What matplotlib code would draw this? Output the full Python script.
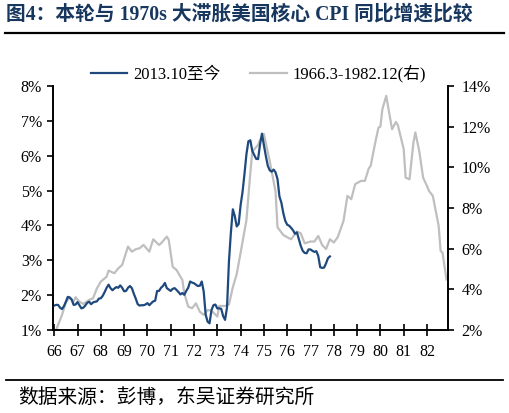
import numpy as np
import matplotlib
matplotlib.use("Agg")
import matplotlib.pyplot as plt
from matplotlib.lines import Line2D

# 2013.10 to now, US core CPI yoy (%), monthly, left axis
blue_vals = [1.70, 1.72, 1.72, 1.64, 1.60, 1.68, 1.81, 1.95, 1.93, 1.87,
             1.72, 1.73, 1.80, 1.71, 1.62, 1.64, 1.70, 1.78, 1.81, 1.74,
             1.79, 1.81, 1.82, 1.90, 1.91, 1.98, 2.09, 2.21, 2.30, 2.20,
             2.14, 2.19, 2.23, 2.21, 2.28, 2.21, 2.11, 2.12, 2.21, 2.26,
             2.20, 2.04, 1.90, 1.74, 1.70, 1.71, 1.71, 1.73, 1.77, 1.71,
             1.77, 1.82, 1.84, 2.12, 2.12, 2.21, 2.26, 2.35, 2.20, 2.16,
             2.12, 2.18, 2.20, 2.15, 2.09, 2.02, 2.06, 2.01, 2.12, 2.21,
             2.39, 2.36, 2.34, 2.30, 2.26, 2.27, 2.39, 2.10, 1.44, 1.24,
             1.19, 1.57, 1.71, 1.73, 1.62, 1.62, 1.61, 1.40, 1.29, 1.65,
             2.97, 3.80, 4.46, 4.27, 3.97, 4.04, 4.58, 4.96, 5.48, 6.04,
             6.41, 6.44, 6.14, 6.02, 5.91, 5.90, 6.32, 6.63, 6.30, 5.99,
             5.71, 5.58, 5.54, 5.60, 5.52, 5.33, 4.83, 4.65, 4.35, 4.13,
             4.02, 3.99, 3.93, 3.86, 3.76, 3.80, 3.61, 3.41, 3.27, 3.21,
             3.20, 3.31, 3.31, 3.27, 3.24, 3.26, 3.12, 2.80, 2.78, 2.79,
             2.91, 3.06, 3.11]

# 1966.3-1982.12, months since 1966.3 and yoy (%), right axis
gray_months = [0, 2, 4, 6, 8, 10, 11, 13, 15, 18, 20, 22, 24, 27, 28, 31, 33, 35,
               38, 40, 42, 44, 46, 49, 51, 54, 55, 58, 59, 60, 61, 63, 66, 67,
               69, 71, 73, 75, 77, 79, 81, 84, 85, 88, 90, 92, 94, 96, 99, 101,
               102, 105, 106, 108, 109, 111, 114, 115, 118, 120, 122, 125, 127,
               129, 132, 134, 136, 138, 140, 142, 144, 146, 149, 151, 153, 155,
               158, 160, 162, 163, 165, 167, 168, 169, 171, 174, 176, 177, 180,
               181, 183, 185, 186, 188, 190, 192, 193, 195, 198, 199, 200, 202]
gray_vals = [1.75, 2.25, 2.74, 3.35, 3.61, 3.39, 3.61, 3.39, 3.28, 3.48, 3.56,
             4.05, 4.38, 4.62, 4.92, 4.79, 5.03, 5.20, 6.10, 5.85, 5.97, 6.02,
             6.18, 5.85, 6.46, 6.18, 6.26, 6.59, 6.43, 5.77, 5.11, 4.95, 4.46,
             3.80, 3.15, 3.07, 3.31, 2.90, 2.74, 2.98, 2.95, 2.66, 3.18, 3.18,
             3.25, 4.10, 4.75, 5.80, 7.40, 9.71, 10.77, 11.10, 11.35, 11.64,
             11.18, 10.30, 8.80, 7.05, 6.67, 6.56, 6.46, 6.84, 6.75, 6.26, 6.35,
             6.35, 6.62, 6.18, 5.98, 6.46, 6.30, 6.56, 7.36, 8.59, 8.43, 9.17,
             9.33, 9.33, 9.94, 10.07, 11.05, 11.95, 12.00, 12.85, 13.51, 11.87,
             12.23, 12.07, 10.89, 9.49, 9.41, 11.21, 11.71, 10.80, 9.49, 9.08,
             8.84, 8.59, 7.12, 5.89, 5.80, 4.49]

year_labels = ["66", "67", "68", "69", "70", "71", "72", "73", "74",
               "75", "76", "77", "78", "79", "80", "81", "82"]

title = "图4：本轮与 1970s 大滞胀美国核心 CPI 同比增速比较"
source = "数据来源：彭博，东吴证券研究所"
label_blue = "2013.10至今"
label_gray = "1966.3-1982.12(右)"

BLUE = "#1F497D"
GRAY = "#BFBFBF"
NAVY = "#17375E"
serif = ["Liberation Serif", "Noto Sans CJK SC"]

fig = plt.figure(figsize=(5.10, 4.13), dpi=100)
ax = fig.add_axes([0.104, 0.201, 0.774, 0.591])
ax2 = ax.twinx()

ax.plot(np.arange(len(blue_vals)), blue_vals, color=BLUE, lw=1.6)
ax2.plot(gray_months, gray_vals, color=GRAY, lw=1.6)
ax.set_zorder(ax2.get_zorder() + 1)
ax.patch.set_visible(False)

ax.set_xlim(-0.6, 202.7)
ax.set_ylim(1, 8)
ax2.set_ylim(2, 14)
ax.set_yticks(range(1, 9))
ax.set_yticklabels([f"{v}%" for v in range(1, 9)])
ax2.set_yticks(range(2, 15, 2))
ax2.set_yticklabels([f"{v}%" for v in range(2, 15, 2)])
ax.set_xticks(np.arange(len(year_labels)) * 12)
ax.set_xticklabels(year_labels)

for a in (ax, ax2):
    a.spines["top"].set_visible(False)
    for s in ("left", "right", "bottom"):
        a.spines[s].set_linewidth(1.2)
ax.tick_params(axis="y", direction="out", length=4, width=1.2, pad=4)
ax2.tick_params(axis="y", direction="out", length=4, width=1.2, pad=6)
ax.tick_params(axis="x", direction="inout", length=8, width=1.2, pad=6)
for lab in ax.get_yticklabels() + ax2.get_yticklabels():
    lab.set_fontfamily(serif)
    lab.set_fontsize(11.5)
for lab in ax.get_xticklabels():
    lab.set_fontfamily(serif)
    lab.set_fontsize(11.5)

handles = [Line2D([], [], color=BLUE, lw=1.6), Line2D([], [], color=GRAY, lw=1.6)]
fig.legend(handles, [label_blue, label_gray], loc="center", ncol=2,
           bbox_to_anchor=(0.507, 0.821), frameon=False, handlelength=2.2,
           columnspacing=1.8, handletextpad=0.35,
           prop={"family": serif, "size": 12})

fig.text(0.012, 0.964, title, color=NAVY, fontsize=14.2, fontweight="bold",
         family=serif, va="center", ha="left")
fig.add_artist(Line2D([0.01, 0.988], [0.919, 0.919], color="black", lw=1.6))
fig.add_artist(Line2D([0.012, 0.986], [0.08, 0.08], color="black", lw=1.3))
fig.text(0.035, 0.037, source, fontsize=14.2, family=["Noto Sans CJK SC"],
         va="center", ha="left")

fig.savefig("out.png", dpi=100)
